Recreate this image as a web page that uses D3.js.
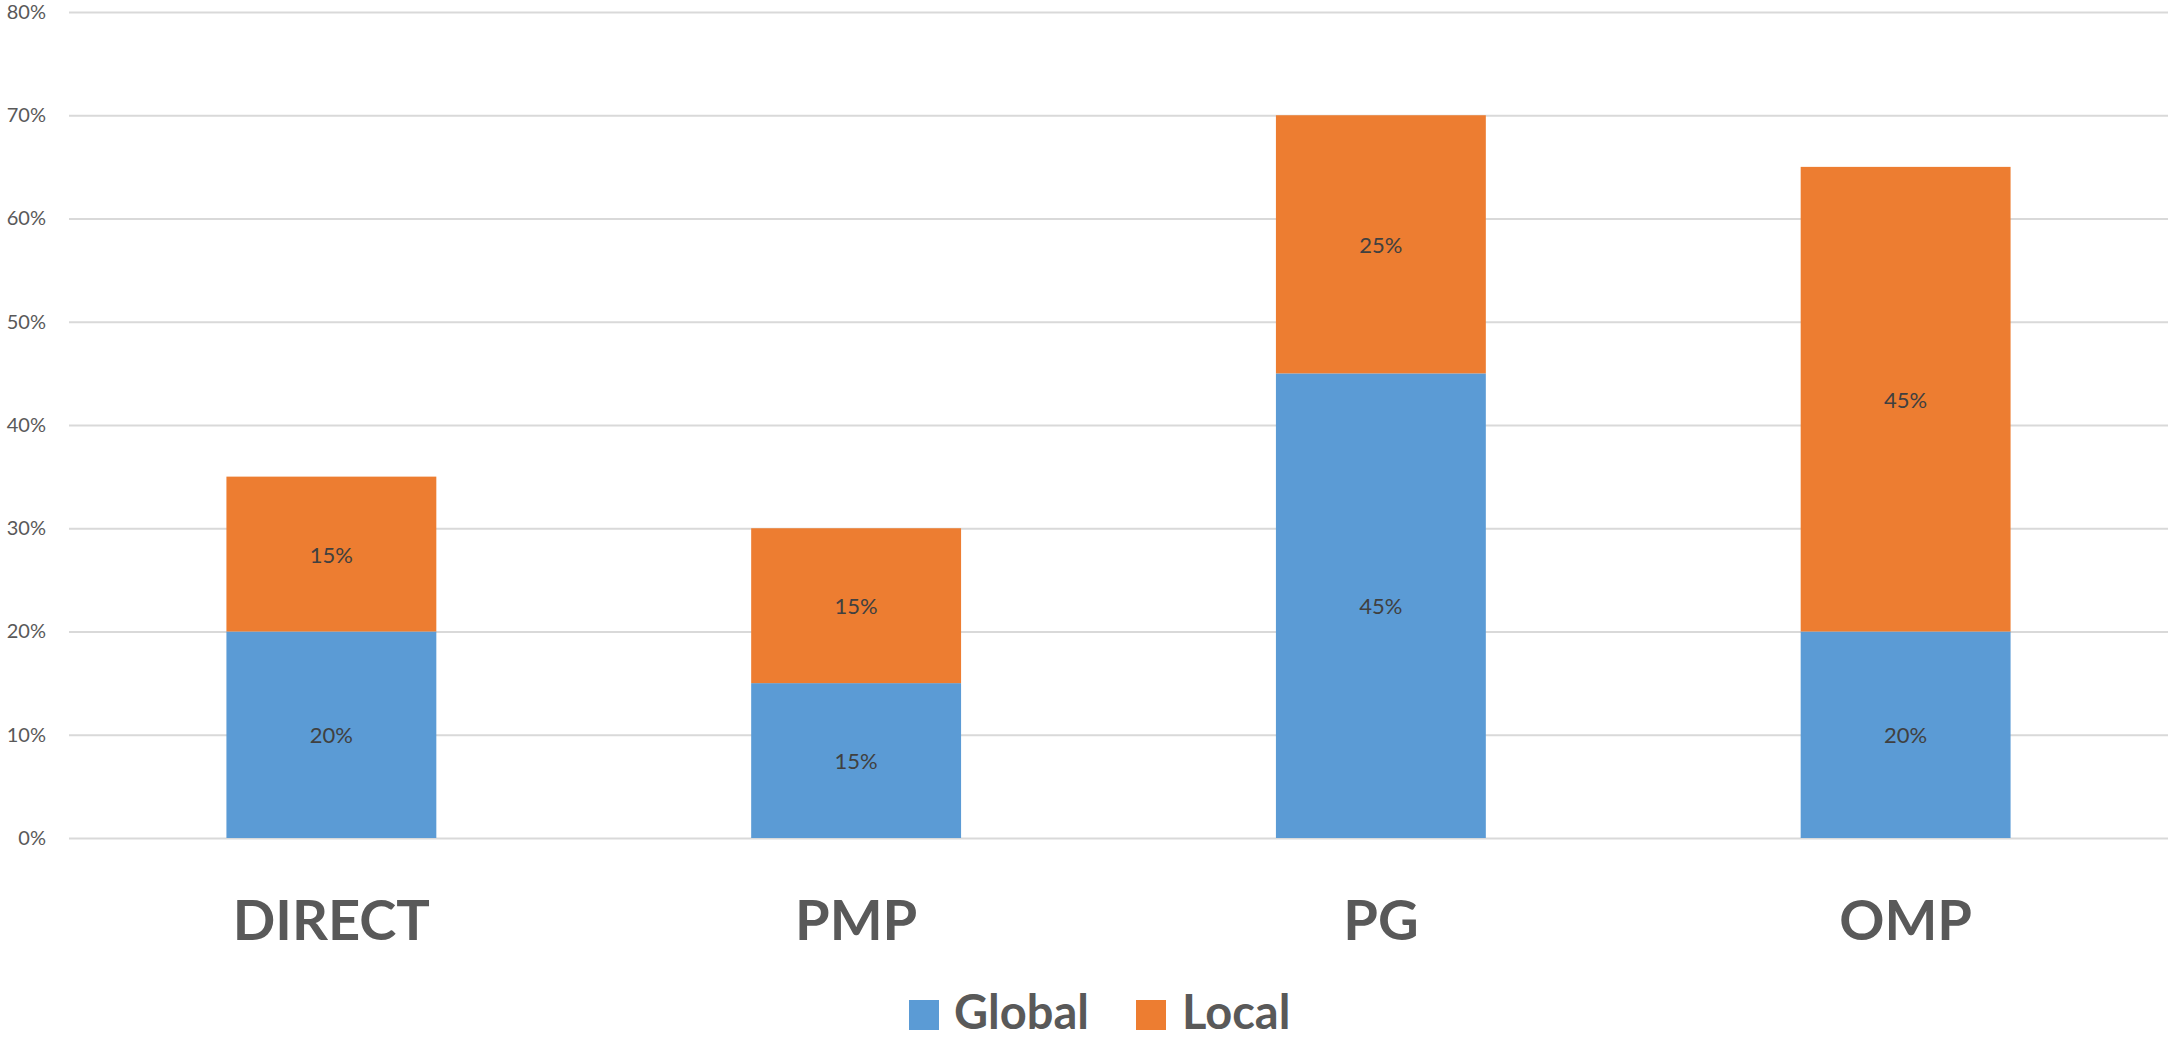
<!DOCTYPE html>
<html>
<head>
<meta charset="utf-8">
<script src="https://cdn.jsdelivr.net/npm/d3@7"></script>
<style>
  html, body { margin: 0; padding: 0; background: #fff; }
  svg { display: block; }
  svg text { font-family: Lato, "Open Sans", sans-serif; }
</style>
</head>
<body>
<svg id="chart" width="2168" height="1038"></svg>
<script>
// Share of each method, split into global and local parts (percent)
const categories = ["DIRECT", "PMP", "PG", "OMP"];
const seriesNames = ["Global", "Local"];
const globalValues = [20, 15, 45, 20];
const localValues = [15, 15, 25, 45];
const yTicks = [0, 10, 20, 30, 40, 50, 60, 70, 80];
const seriesColors = ["#5B9BD5", "#ED7D31"];

const svg = d3.select("#chart");
const W = 2168, H = 1038;
const margin = { left: 69, right: 0, top: 12, bottom: 200 };

const x = d3.scaleBand()
  .domain(categories)
  .range([margin.left, W - margin.right])
  .paddingInner(0.6)
  .paddingOuter(0.3);

const y = d3.scaleLinear()
  .domain([0, 80])
  .range([838, 12]);

// Gridlines and percentage ticks
const yAxis = d3.axisLeft(y)
  .tickValues(yTicks)
  .tickSize(-(W - margin.left - margin.right))
  .tickPadding(23)
  .tickFormat(d => d + "%");

const gy = svg.append("g")
  .attr("transform", `translate(${margin.left},0)`)
  .call(yAxis)
  .attr("font-family", null);
gy.select(".domain").remove();
gy.selectAll(".tick line").attr("stroke", "#D9D9D9").attr("stroke-width", 2);
gy.selectAll(".tick text")
  .attr("fill", "#595959")
  .style("font-size", "20px");

// Stack the two series
const rows = categories.map((c, i) => ({ cat: c, Global: globalValues[i], Local: localValues[i] }));
const stacked = d3.stack().keys(seriesNames)(rows);

const layers = svg.append("g")
  .selectAll("g")
  .data(stacked)
  .join("g")
  .attr("fill", (d, i) => seriesColors[i]);

layers.selectAll("rect")
  .data(d => d)
  .join("rect")
  .attr("x", d => x(d.data.cat))
  .attr("width", x.bandwidth())
  .attr("y", d => y(d[1]))
  .attr("height", d => y(d[0]) - y(d[1]));

// Value labels centred in each segment
layers.selectAll("text")
  .data(d => d.map(p => ({ p, key: d.key })))
  .join("text")
  .attr("x", d => x(d.p.data.cat) + x.bandwidth() / 2)
  .attr("y", d => (y(d.p[0]) + y(d.p[1])) / 2)
  .attr("text-anchor", "middle")
  .attr("dominant-baseline", "central")
  .attr("fill", "#404040")
  .style("font-size", "22px")
  .text(d => d.p.data[d.key] + "%");

// Category labels
const gx = svg.append("g")
  .attr("transform", `translate(0,838)`)
  .call(d3.axisBottom(x).tickSize(0).tickPadding(0))
  .attr("font-family", null);
gx.select(".domain").remove();
gx.selectAll(".tick text")
  .attr("y", 102)
  .attr("dy", 0)
  .attr("fill", "#595959")
  .style("font-size", "56px")
  .style("font-weight", "bold");

// Legend
const legendItems = [
  { name: seriesNames[0], color: seriesColors[0], sx: 909, tx: 954 },
  { name: seriesNames[1], color: seriesColors[1], sx: 1136, tx: 1182 }
];
const legend = svg.append("g");
legend.selectAll("rect")
  .data(legendItems)
  .join("rect")
  .attr("x", d => d.sx)
  .attr("y", 1000)
  .attr("width", 30)
  .attr("height", 30)
  .attr("fill", d => d.color);
legend.selectAll("text")
  .data(legendItems)
  .join("text")
  .attr("x", d => d.tx)
  .attr("y", 1029)
  .attr("fill", "#595959")
  .style("font-size", "47px")
  .style("font-weight", "bold")
  .text(d => d.name);
</script>
</body>
</html>
